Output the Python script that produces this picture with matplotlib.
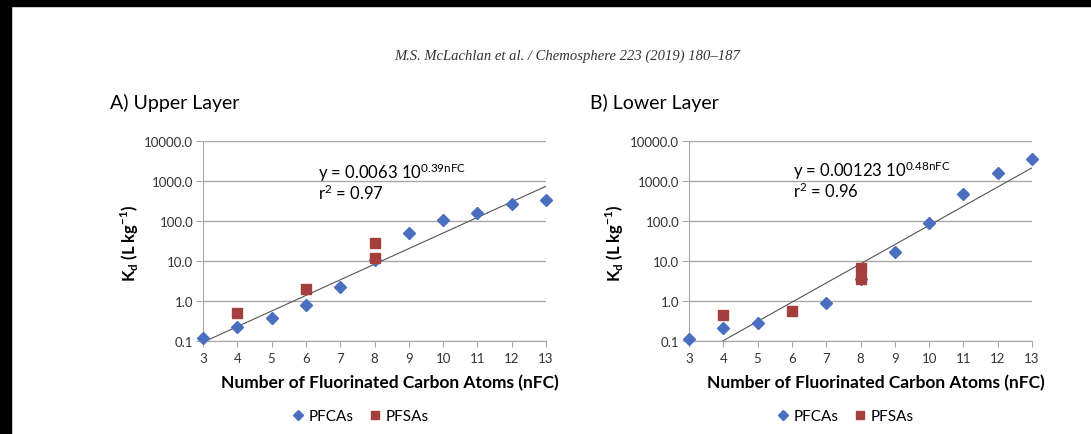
"""
plot.py
Kd vs number of fluorinated carbon atoms, upper and lower layer
"""

import numpy as np
import matplotlib.pyplot as plt
from matplotlib.lines import Line2D
from matplotlib.patches import Rectangle
from matplotlib.ticker import FixedLocator, FuncFormatter, NullLocator

plt.rcParams['font.family'] = ['Lato', 'DejaVu Sans']

# Data
upper_pfca_nfc = [3, 4, 5, 6, 7, 8, 9, 10, 11, 12, 13]
upper_pfca_kd = [0.12, 0.23, 0.38, 0.79, 2.2, 10.4, 50, 108, 158, 261, 335]
upper_pfsa_nfc = [4, 6, 8, 8]
upper_pfsa_kd = [0.50, 2.0, 28, 12]
upper_fit = (0.0063, 0.39)
upper_r2 = 0.97

# no PFCA diamond is visible at nFC = 6 in the lower layer
lower_pfca_nfc = [3, 4, 5, 7, 8, 9, 10, 11, 12, 13]
lower_pfca_kd = [0.11, 0.215, 0.29, 0.91, 3.5, 17, 87, 473, 1550, 3600]
lower_pfsa_nfc = [4, 6, 8, 8]
lower_pfsa_kd = [0.45, 0.56, 6.6, 3.5]
lower_fit = (0.00123, 0.48)
lower_r2 = 0.96

y_ticks = [0.1, 1, 10, 100, 1000, 10000]
x_ticks = list(range(3, 14))

blue = '#4a6fc0'
red = '#a3403d'
grid_col = '#a8a8a8'

W, H = 1091, 435


def draw_panel(rect, pfca_x, pfca_y, pfsa_x, pfsa_y, fit, r2, coef_txt):
    ax = fig.add_axes(rect)
    ax.set_yscale('log')
    ax.set_xlim(3, 13)
    ax.set_ylim(0.1, 10000)

    # trendline from the displayed equation
    xs = np.linspace(3, 13, 50)
    ax.plot(xs, fit[0] * 10 ** (fit[1] * xs), color='#555555', lw=0.8, zorder=2)

    ax.plot(pfca_x, pfca_y, 'D', color=blue, ms=6, mec=blue, ls='none',
            clip_on=False, zorder=3)
    ax.plot(pfsa_x, pfsa_y, 's', color=red, ms=6.5, mec=red, ls='none',
            clip_on=False, zorder=4)

    ax.yaxis.set_major_locator(FixedLocator(y_ticks))
    ax.yaxis.set_minor_locator(NullLocator())
    ax.yaxis.set_major_formatter(FuncFormatter(lambda v, p: '%.1f' % v))
    ax.xaxis.set_major_locator(FixedLocator(x_ticks))
    ax.grid(axis='y', color=grid_col, lw=1.0)
    ax.set_axisbelow(True)
    for s in ['top', 'right']:
        ax.spines[s].set_visible(False)
    for s in ['left', 'bottom']:
        ax.spines[s].set_color(grid_col)
    ax.tick_params(axis='y', length=5, color=grid_col, labelsize=9.5,
                   labelcolor='#333333', pad=2)
    ax.tick_params(axis='x', length=4, color=grid_col, labelsize=9.5,
                   labelcolor='#333333', pad=4)

    ax.text(coef_txt[0], coef_txt[1],
            'y = %s $\\mathregular{10^{%.2fnFC}}$' % (str(fit[0]), fit[1]),
            transform=ax.transAxes, fontsize=12, va='center')
    ax.text(coef_txt[0], coef_txt[1] - 0.1,
            'r$\\mathregular{^2}$ = %.2f' % r2,
            transform=ax.transAxes, fontsize=12, va='center')
    return ax


fig = plt.figure(figsize=(W / 100, H / 100), dpi=100)

# black scan borders
fig.patches.append(Rectangle((0, 1 - 7 / H), 1, 7 / H, color='black',
                             transform=fig.transFigure, zorder=0))
fig.patches.append(Rectangle((0, 0), 11 / W, 1, color='black',
                             transform=fig.transFigure, zorder=0))

fig.text(567 / W, 1 - 56 / H,
         'M.S. McLachlan et al. / Chemosphere 223 (2019) 180\u2013187',
         family='Liberation Serif', style='italic', fontsize=10.5,
         ha='center', va='center', color='#333333')

panels = [
    (203, upper_pfca_nfc, upper_pfca_kd, upper_pfsa_nfc, upper_pfsa_kd,
     upper_fit, upper_r2, (0.335, 0.845), 'A) Upper Layer', 110, 130, 390, 360),
    (689, lower_pfca_nfc, lower_pfca_kd, lower_pfsa_nfc, lower_pfsa_kd,
     lower_fit, lower_r2, (0.303, 0.855), 'B) Lower Layer', 590, 615, 876, 845),
]

for (x0, px, py, sx, sy, fit, r2, pos, title, tx, ylx, xlx, legx) in panels:
    rect = [x0 / W, 1 - 342 / H, 343 / W, 200 / H]
    draw_panel(rect, px, py, sx, sy, fit, r2, pos)
    fig.text(tx / W, 1 - 103 / H, title, fontsize=14, va='center')
    fig.text(xlx / W, 1 - 383 / H, 'Number of Fluorinated Carbon Atoms (nFC)',
             fontsize=12.5, weight='bold', ha='center', va='center')
    fig.text(ylx / W, 1 - 243 / H,
             'K$_\\mathregular{d}$ (L kg$^\\mathregular{-1}$)',
             fontsize=12, weight='bold', rotation=90, ha='center', va='center')
    handles = [Line2D([], [], marker='D', color=blue, ls='none', ms=5.5),
               Line2D([], [], marker='s', color=red, ls='none', ms=6)]
    fig.legend(handles, ['PFCAs', 'PFSAs'], loc='center',
               bbox_to_anchor=(legx / W, 1 - 417 / H), ncol=2, frameon=False,
               fontsize=11, handlelength=0.8, handletextpad=0.3,
               columnspacing=1.0)

fig.savefig('out.png', dpi=100)
